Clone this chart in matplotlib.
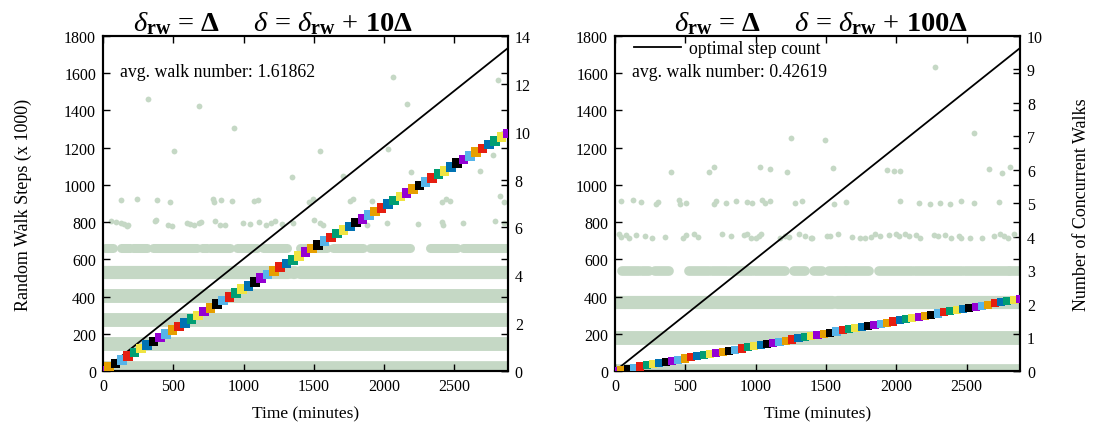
import numpy as np
import matplotlib
matplotlib.use("Agg")
import matplotlib.pyplot as plt

plt.rcParams["font.family"] = ["Liberation Serif", "DejaVu Serif"]
plt.rcParams["mathtext.fontset"] = "custom"
plt.rcParams["mathtext.rm"] = "Liberation Serif"
plt.rcParams["mathtext.it"] = "Liberation Serif:italic"
plt.rcParams["mathtext.bf"] = "Liberation Serif:bold"

# ---- data ------------------------------------------------------------------
T_MAX = 2880
OPT_T = [0, 2880]
OPT_STEPS = [0, 1735]

# cumulative random walk steps (x 1000), sampled every 45 minutes
STEP_T = np.arange(0, 2881, 45)
STEPS_10 = [0, 20, 40, 60, 80, 100, 120, 140, 159, 179, 199, 219, 239, 259, 279,
            299, 319, 339, 359, 379, 399, 419, 439, 458, 478, 498, 518, 538, 558,
            578, 598, 618, 638, 658, 678, 698, 718, 738, 758, 777, 797, 817, 837,
            857, 877, 897, 917, 937, 957, 977, 997, 1017, 1037, 1057, 1076, 1096,
            1116, 1136, 1156, 1176, 1196, 1216, 1236, 1256, 1276]
STEPS_100 = [0, 6, 12, 18, 24, 30, 36, 42, 48, 54, 61, 67, 73, 79, 85, 91, 97,
             103, 109, 115, 121, 127, 133, 139, 145, 151, 157, 163, 169, 176, 182,
             188, 194, 200, 206, 212, 218, 224, 230, 236, 242, 248, 254, 260, 266,
             272, 278, 284, 291, 297, 303, 309, 315, 321, 327, 333, 339, 345, 351,
             357, 363, 369, 375, 381, 387]

AVG_10 = "1.61862"
AVG_100 = "0.42619"

# concurrent walks: dense bands (level, time spans) and sparse points
L_BAND_LEVELS = [0.2, 1.14, 2.15, 3.12, 4.14, 5.12]
L_BAND_SPANS = [
    [(0, 2880)],
    [(0, 2880)],
    [(0, 2880)],
    [(0, 2880)],
    [(0, 1318), (1350, 1360), (1401, 2880)],
    [(14, 73), (126, 192), (216, 311), (358, 666), (702, 737), (761, 903),
     (950, 1093), (1140, 1306), (1401, 1590), (1637, 1851), (1898, 2183),
     (2325, 2515), (2562, 2880)],
]
L_DOT_T = [55, 92, 126, 149, 169, 178, 370, 377, 464, 488, 599, 619, 647, 680,
           697, 796, 832, 868, 998, 1045, 1111, 1157, 1192, 1223, 1271, 1354,
           1500, 1543, 1562, 1799, 1875, 2017, 2242, 2408, 2420, 2562, 2787, 2851,
           128, 240, 382, 476, 780, 792, 837, 920, 1074, 1104, 1465,
           1496, 1756, 1780, 1911, 2408, 2443, 2467, 2851, 2823,
           318, 683, 934, 507, 1344, 2065, 2812, 2164, 1543, 2029, 1709, 2194,
           2685, 2771]
L_DOT_V = [6.25, 6.22, 6.2, 6.15, 6.07, 6.12, 6.28, 6.31, 6.12, 6.08, 6.2, 6.15,
           6.1, 6.18, 6.22, 6.25, 6.1, 6.12, 6.2, 6.14, 6.22, 6.1, 6.2, 6.26, 6.15,
           6.18, 6.3, 6.2, 6.12, 6.25, 6.12, 6.2, 6.15, 6.22, 6.1, 6.18, 6.25, 6.2,
           7.15, 7.2, 7.15, 7.08, 7.18, 7.05, 7.15, 7.1, 7.12, 7.14, 7.05,
           7.2, 7.1, 7.18, 7.12, 7.05, 7.2, 7.1, 7.05, 7.3,
           11.36, 11.06, 10.14, 9.2, 8.1, 12.27, 12.16, 11.16, 9.2, 9.28, 8.16,
           8.33, 8.35, 9.04]

R_BAND_LEVELS = [0.05, 0.98, 2.05, 2.99]
R_BAND_SPANS = [
    [(0, 2880)],
    [(0, 2880)],
    [(0, 1545), (1580, 2880)],
    [(50, 168), (192, 240), (287, 382), (524, 666), (690, 796), (820, 974),
     (998, 1211), (1270, 1353), (1413, 1472), (1519, 1638), (1650, 1804),
     (1875, 2112), (2135, 2467), (2491, 2799), (2811, 2870)],
]
R_DOT_T = [31, 45, 78, 97, 149, 216, 263, 353, 481, 505, 559, 590, 761, 822, 915,
           939, 969, 1002, 1021, 1040, 1171, 1211, 1235, 1306, 1353, 1396,
           1401, 1507, 1531, 1585, 1685, 1744, 1780, 1822, 1851, 1886, 1950, 1998,
           2022, 2059, 2088, 2140, 2171, 2265, 2296, 2349, 2391, 2443, 2462, 2526,
           2609, 2692, 2740, 2763, 2794, 2839,
           45, 126, 187, 294, 306, 458, 465, 505, 702, 718, 789, 863, 939, 974,
           1045, 1069, 1104, 1277, 1330, 1555, 1645, 2029, 2159, 2242, 2308, 2384,
           2462, 2550, 2733,
           398, 666, 702, 1028, 1100, 1223, 1550, 1934, 1981, 2024, 2661, 2751, 2806,
           1254, 1496, 2555, 2273]
R_DOT_V = [4.1, 4.0, 4.05, 3.98, 4.06, 4.02, 3.97, 4.0, 3.96, 4.05, 4.08, 4.0,
           4.08, 4.02, 4.06, 4.1, 3.98, 3.98, 4.04, 4.1, 3.98, 4.04, 4.0, 4.08,
           4.02, 3.98, 3.98, 4.04, 4.02, 4.08, 4.0, 3.96, 3.98, 4.0, 4.08, 4.02,
           4.06, 4.1, 4.04, 4.08, 4.02, 4.05, 3.98, 4.06, 4.02, 4.05, 3.96, 4.04,
           3.98, 3.98, 3.96, 4.02, 4.08, 4.04, 3.98, 4.08,
           5.07, 5.1, 5.05, 4.97, 5.04, 5.1, 4.98, 5.02, 4.98, 5.07, 5.02, 5.08,
           5.04, 5.02, 5.1, 5.0, 5.07, 5.02, 5.07, 4.97, 5.04, 5.08, 5.02, 4.98,
           5.02, 4.98, 5.08, 5.02, 5.04,
           5.93, 5.93, 6.08, 6.08, 6.02, 5.95, 6.05, 6.0, 5.98, 5.98, 6.03, 5.92,
           6.1,
           6.95, 6.9, 7.11, 9.08]

# ---- style ------------------------------------------------------------------
DOT_COLOR = "#c5d8c5"
WALK_COLORS = ["#9400d3", "#009e73", "#56b4e9", "#e69f00", "#f0e442",
               "#0072b2", "#e51e10", "#000000"]
COLOR_ORDER = [0, 3, 7, 2, 6, 1, 4, 5, 7, 0, 2, 3, 6, 5, 1, 4]
FS = 11.5
LFS = 12.8


def draw_panel(ax, steps, avg, title, title_x, band_levels, band_spans,
               band_widths, dot_t, dot_v, y2max, show_legend, sq_size):
    ax2 = ax.twinx()
    ax.set_zorder(ax2.get_zorder() + 1)
    ax.patch.set_visible(False)

    for level, spans, lw in zip(band_levels, band_spans, band_widths):
        for t0, t1 in spans:
            ax2.plot([t0, t1], [level, level], color=DOT_COLOR, lw=lw,
                     solid_capstyle="round")
    ax2.plot(dot_t, dot_v, "o", color=DOT_COLOR, ms=4.2, mew=0)
    ax2.set_ylim(0, y2max)
    ax2.set_yticks(np.arange(0, y2max + 1, 2 if y2max > 10 else 1))

    ax.plot(OPT_T, OPT_STEPS, color="black", lw=1.3, label="optimal step count")
    ax.plot(STEP_T, steps, color=WALK_COLORS[2], lw=2.5)
    cols = [WALK_COLORS[COLOR_ORDER[i % len(COLOR_ORDER)]] for i in range(len(steps))]
    ax.scatter(STEP_T, steps, marker="s", s=sq_size, c=cols, linewidths=0, zorder=3)

    ax.set_xlim(0, T_MAX)
    ax.set_ylim(0, 1800)
    ax.set_xticks([0, 500, 1000, 1500, 2000, 2500])
    ax.set_yticks(np.arange(0, 1801, 200))
    ax.set_xlabel("Time (minutes)", fontsize=12.5, labelpad=8)
    ax.set_title(title, fontsize=20.5, pad=0, x=title_x)

    for a in (ax, ax2):
        a.tick_params(direction="in", length=5, width=1, labelsize=FS, pad=5)
        for s in a.spines.values():
            s.set_linewidth(1.5)
    ax.tick_params(top=True, right=True)

    if show_legend:
        ax.legend(loc="upper left", frameon=False, fontsize=LFS, handlelength=2.6,
                  borderaxespad=0, bbox_to_anchor=(0.03, 1.01), handletextpad=0.5)
    ax.text(0.043, 0.895, f"avg. walk number: {avg}", transform=ax.transAxes,
            fontsize=LFS, va="center", ha="left")
    return ax2


fig = plt.figure(figsize=(10.93, 4.31), dpi=100)
ax_l = fig.add_axes([0.0942, 0.1369, 0.3705, 0.7773])
ax_r = fig.add_axes([0.5627, 0.1369, 0.3705, 0.7773])

draw_panel(ax_l, STEPS_10, AVG_10,
           r"$\delta_{\mathbf{rw}}$ = $\mathbf{\Delta}$     $\delta$ = $\delta_{\mathbf{rw}}$ + $\mathbf{10\Delta}$",
           0.42, L_BAND_LEVELS, L_BAND_SPANS, [7, 10, 10, 10, 9.5, 6.5],
           L_DOT_T, L_DOT_V, 14, False, 48)
ax_l.set_ylabel("Random Walk Steps (x 1000)", fontsize=13, labelpad=23)

ax2_r = draw_panel(ax_r, STEPS_100, AVG_100,
                   r"$\delta_{\mathbf{rw}}$ = $\mathbf{\Delta}$     $\delta$ = $\delta_{\mathbf{rw}}$ + $\mathbf{100\Delta}$",
                   0.51, R_BAND_LEVELS, R_BAND_SPANS, [7, 10, 9.5, 7],
                   R_DOT_T, R_DOT_V, 10, True, 34)
ax2_r.set_ylabel("Number of Concurrent Walks", fontsize=13, labelpad=22)

fig.savefig("out.png", dpi=100)
